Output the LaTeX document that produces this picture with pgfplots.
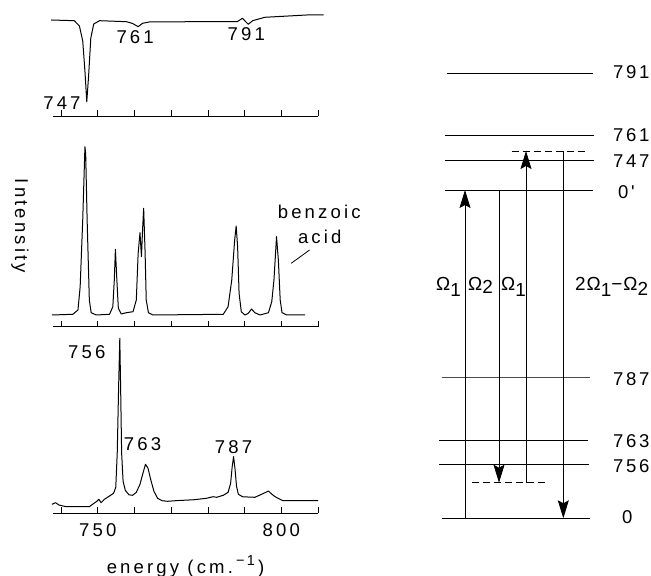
\documentclass[border=0pt]{standalone}
\usepackage{pgfplots}
\pgfplotsset{compat=1.18}
\usetikzlibrary{arrows.meta}
\usepackage{fontspec}
\setmainfont{Liberation Sans}
\newfontfamily\lfam[LetterSpace=17]{Liberation Sans}
\newfontfamily\rfam[LetterSpace=14]{Liberation Sans}
\newfontfamily\gfam[LetterSpace=5]{Liberation Sans}
\newcommand\lfont{\lfam\fontsize{18.6}{22}\selectfont}
\newcommand\rfont{\rfam\fontsize{18.6}{22}\selectfont}
\newcommand\gfont{\gfam\fontsize{19}{22}\selectfont}
\newcommand\lo[2][-6bp]{\raisebox{#1}{#2}}

% one spectrum panel: only the bottom energy axis, ticks pointing up
\pgfplotsset{
  panel/.style={
    scale only axis, width=265bp,
    xmin=737.8, xmax=810, ymin=0,
    axis x line*=bottom, axis y line=none,
    xtick={740,750,...,810}, xticklabel=\empty,
    xtick align=inside, major tick length=6bp,
    every tick/.style={black, line width=0.7bp},
    axis line style={line width=0.7bp},
    clip=false,
  },
  spec/.style={black, line width=1bp, line join=round, mark=none},
}

\begin{document}
\begin{tikzpicture}
\useasboundingbox (0,0) rectangle (651bp,576bp);

% ---- absorption (transmission) spectrum ----
\begin{axis}[panel, at={(53bp,460bp)}, anchor=south west,
  height=106bp, ymax=106]
\addplot[spec] coordinates {
 (737.3,96) (743.6,95.3) (745.0,90) (745.9,75) (746.5,45) (747,14.3)
 (747.5,40) (748.1,78) (748.9,92) (750.5,95.3) (757.8,94.3) (759.5,92.5)
 (761,89.3) (762.2,92.7) (764,94) (776,94.3) (788,94.3) (789.4,97.7)
 (791,91.7) (792.2,95.3) (795.5,98.7) (806.9,101) (811.5,101)
};
\node[font=\lfont, inner sep=0, anchor=east, xshift=-6bp] at (axis cs:747,12.7) {747};
\node[font=\lfont, inner sep=0, xshift=-3bp] at (axis cs:761,79) {761};
\node[font=\lfont, inner sep=0, xshift=-2bp] at (axis cs:791,82) {791};
\end{axis}

% ---- Raman spectrum ----
\begin{axis}[panel, at={(53bp,249.3bp)}, anchor=south west,
  height=190.7bp, ymax=190.7]
\addplot[spec] coordinates {
 (737.5,11.7) (743.2,12.4) (744.6,16.7) (745.2,40) (745.9,106.7) (746.5,180)
 (746.7,173.4) (747.1,106.7) (747.7,26.7) (748.2,14) (749.6,11.7)
 (753.2,12.4) (754.1,20) (754.5,46.7) (754.8,77.4) (755.2,46.7) (755.6,18.4)
 (756.4,12.7) (757.8,14) (759.6,15) (760.5,26.7) (761.0,73.4) (761.5,94)
 (761.9,70) (762.2,96.7) (762.5,118.4) (762.9,73.4) (763.2,26.7) (763.8,14)
 (765.0,11.7) (784.2,12.4) (785.5,20) (786.5,46.7) (787.3,86.7) (787.7,100.7)
 (788.1,80) (788.5,33.4) (789.1,15) (790.1,11.7) (791.0,13.4) (791.9,17.7)
 (792.8,14) (794.2,11.7) (796.5,14) (797.4,25) (798.0,46.7) (798.7,90)
 (799.2,66.7) (799.7,26.7) (800.2,14) (801.5,11.7) (806.5,11.7)
};
\node[font=\lfont, rotate=-90] at (axis description cs:-0.125,0.528) {Intensity};
\node[font=\lfont, inner sep=0, anchor=base west] at (axis cs:799.0,108.4) {benzoic};
\node[font=\lfont, inner sep=0, anchor=base west] at (axis cs:804.5,83.4) {acid};
\draw[line width=0.8bp] (axis cs:802.7,63.4) -- (axis cs:807.7,76.7);
\end{axis}

% ---- CARS spectrum ----
\begin{axis}[panel, at={(53bp,62.7bp)}, anchor=south west,
  height=183.3bp, ymax=183.3,
  xticklabels={,750,,,,,800,},
  xticklabel style={font=\lfont, anchor=base, yshift=-23.5bp},
  xlabel={energy (cm.\,\raisebox{0.42em}{\fontsize{14.5}{15}\selectfont −1}\,)},
  xlabel style={font=\lfont, at={(axis description cs:0.5,0)}, anchor=base, yshift=-60bp}]
\addplot[spec] coordinates {
 (737.5,9.0) (738.5,10.6) (739.4,8.3) (741.4,6.6) (747.7,6.6) (748.7,9.3)
 (749.6,11.6) (750.3,14) (750.9,10.6) (751.8,14) (753.2,17.3) (754.3,20)
 (754.9,26) (755.3,60) (755.7,130) (756,175) (756.25,120) (756.5,60)
 (756.9,32) (757.5,23) (758.5,18.5) (759.5,18) (760.5,21) (761.5,29)
 (762.3,40) (763,49) (763.7,45) (764.4,34) (765.3,22) (766.3,15) (767.5,12.6)
 (769,12) (772,12.8) (776,13.5) (779.6,15) (781.4,16.6) (782.4,16) (784.2,18)
 (785.5,21) (786.2,30) (786.6,46) (787,56.7) (787.4,44) (787.8,27) (788.3,19)
 (789.5,16.5) (792.8,16) (794.2,18.3) (795.5,20.5) (796.5,22.3) (797.3,19.5)
 (798.3,16.6) (800.4,12.6) (810,12.6)
};
\node[font=\lfont, inner sep=0, xshift=-33bp] at (axis cs:756,161) {756};
\node[font=\lfont, inner sep=0, xshift=-3bp] at (axis cs:763,69.3) {763};
\node[font=\lfont, inner sep=0] at (axis cs:787,66.6) {787};
\end{axis}

% ---- energy level scheme ----
\begin{axis}[at={(0bp,0bp)}, anchor=south west, scale only axis,
  width=651bp, height=576bp, xmin=0, xmax=651, ymin=0, ymax=576,
  y dir=reverse, axis lines=none, clip=false]
% levels
\addplot[black, line width=0.8bp] coordinates {(446.7,73.3) (593.3,73.3)};
\addplot[black, line width=0.8bp] coordinates {(445,135) (594,135)};
\addplot[black, line width=0.8bp] coordinates {(445,160.7) (594,160.7)};
\addplot[black, line width=0.8bp] coordinates {(445,190) (593,190)};
\addplot[black!70, line width=0.6bp] coordinates {(441.7,377.7) (590,377.7)};
\addplot[black, line width=0.8bp] coordinates {(439.3,440.7) (588.3,440.7)};
\addplot[black, line width=0.8bp] coordinates {(439.3,464.7) (589.3,464.7)};
\addplot[black, line width=0.8bp] coordinates {(441.7,518.3) (590,518.3)};
% virtual levels
\addplot[black, line width=0.8bp, dash pattern=on 7bp off 4bp] coordinates {(511.7,151) (588.3,151)};
\addplot[black, line width=0.8bp, dash pattern=on 7bp off 4bp] coordinates {(471.7,482.7) (548.3,482.7)};
% transitions
\addplot[black, line width=0.8bp, -{Stealth[length=18bp,width=11bp,inset=3bp]}] coordinates {(465,518.3) (465,190)};
\addplot[black, line width=0.8bp, -{Stealth[length=18bp,width=11bp,inset=3bp]}] coordinates {(499,190) (499,482.7)};
\addplot[black, line width=0.8bp, -{Stealth[length=18bp,width=11bp,inset=3bp]}] coordinates {(526,482.7) (526,151)};
\addplot[black, line width=0.8bp, -{Stealth[length=18bp,width=11bp,inset=3bp]}] coordinates {(563.3,151) (563.3,518.3)};
% level labels
\node[font=\rfont, inner sep=0, anchor=west] at (axis cs:613,72) {791};
\node[font=\rfont, inner sep=0, anchor=west] at (axis cs:613,135) {761};
\node[font=\rfont, inner sep=0, anchor=west] at (axis cs:613,161) {747};
\node[font=\rfont, inner sep=0, anchor=west] at (axis cs:618,192) {0'};
\node[font=\rfont, inner sep=0, anchor=west] at (axis cs:613,379) {787};
\node[font=\rfont, inner sep=0, anchor=west] at (axis cs:613,441) {763};
\node[font=\rfont, inner sep=0, anchor=west] at (axis cs:613,466) {756};
\node[font=\rfont, inner sep=0, anchor=west] at (axis cs:622,517) {0};
% transition labels
\node[font=\gfont, inner sep=0, anchor=base west] at (axis cs:436,290) {Ω\lo{1}};
\node[font=\gfont, inner sep=0, anchor=base west] at (axis cs:468,290) {Ω\lo[-3bp]{2}};
\node[font=\gfont, inner sep=0, anchor=base west] at (axis cs:501,290) {Ω\lo{1}};
\node[font=\gfont, inner sep=0, anchor=base west] at (axis cs:575,290) {2Ω\lo{1}−Ω\lo[-5bp]{2}};
\end{axis}
\end{tikzpicture}
\end{document}
